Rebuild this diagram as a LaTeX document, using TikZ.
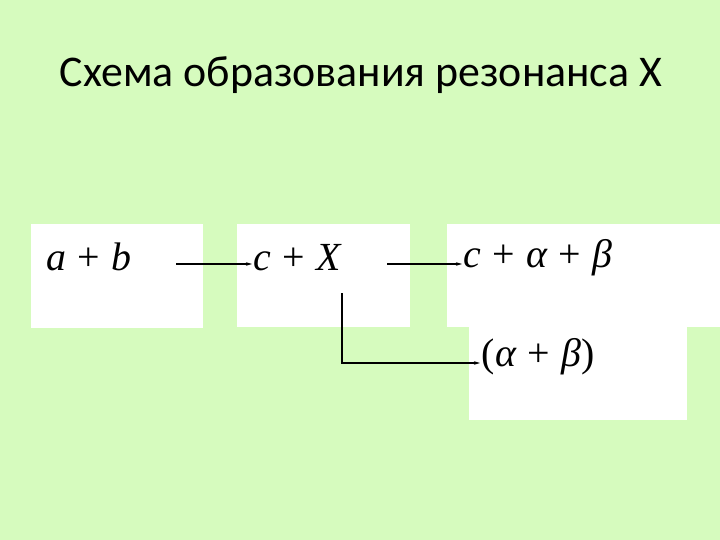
\documentclass[tikz,border=0pt]{standalone}
\usepackage{fontspec}
\usetikzlibrary{arrows.meta}
\setmainfont{Liberation Serif}
\newfontfamily\titlefont{Carlito}
\definecolor{slidebg}{RGB}{214,251,190}

\begin{document}
\begin{tikzpicture}[x=1bp, y=-1bp,
	slot/.style={rectangle, fill=white, draw=none, anchor=north west, inner sep=0pt},
	formula/.style={anchor=base west, inner sep=0pt, outer sep=2pt, font=\fontsize{40}{44}\selectfont},
	arr/.style={-{Stealth[length=6bp, width=3.5bp]}, line width=1.3bp}]
	 % background of the slide
	 \fill[slidebg] (0,0) rectangle (720,540);
	 \useasboundingbox (0,0) rectangle (720,540);

	 \node[anchor=base, inner sep=0pt, font=\titlefont\fontsize{44}{48}\selectfont] (title) at (361,87) {Схема образования резонанса X};

	 % white boxes
	 \node[slot, minimum width=172bp, minimum height=104bp] (boxab) at (31,224) {};
	 \node[slot, minimum width=173bp, minimum height=103bp] (boxcx) at (237,224) {};
	 \node[slot, minimum width=273bp, minimum height=103bp] (boxcab) at (447,224) {};
	 \node[slot, minimum width=218bp, minimum height=95bp] (boxpair) at (469,325) {};

	 % formulas
	 \node[formula] (ab) at (45,271) {\textit{a}\;+\;\textit{b}};
	 \node[formula] (cx) at (252,271) {\textit{c}\;+\;\textit{X}};
	 \node[formula] (cab) at (462,268) {\textit{c}\;+\;\textit{α}\;+\;\textit{β}};
	 \node[formula] (pair) at (480,366) {(\textit{α}\;+\;\textit{β})};

	 % connectors
	 \coordinate (about) at (176,264);
	 \coordinate (cxout) at (387,264);
	 \coordinate (split) at (342,293);
	 \coordinate (bend) at (342,363);
	 \draw[arr] (about) -- (about -| cx.west);
	 \draw[arr] (cxout) -- (cxout -| cab.west);
	 \draw[arr] (split) -- (bend) -- (bend -| pair.west);
\end{tikzpicture}
\end{document}
